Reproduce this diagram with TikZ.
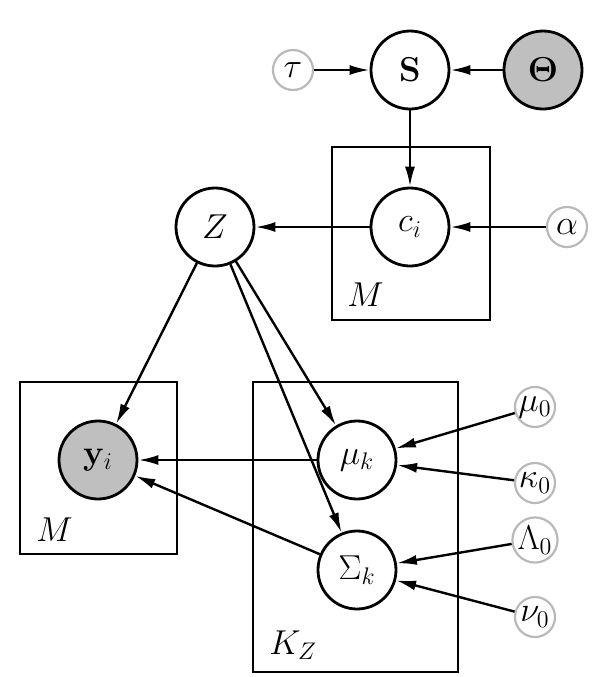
\documentclass[tikz,border=0pt]{standalone}
\usepackage{amsmath}
\usetikzlibrary{arrows.meta,positioning,shapes}
\tikzstyle{latent} = [circle, draw, line width=1.4pt, fill=white,
    minimum size=39pt, inner sep=0pt, font=\LARGE]
\tikzstyle{obs} = [latent, fill=gray!50]
\tikzstyle{hyper} = [circle, draw=gray!55, line width=1.1pt, fill=white,
    minimum size=20pt, inner sep=0pt, font=\LARGE]
\tikzstyle{plate} = [rectangle, draw, line width=1.1pt]
\tikzstyle{platelabel} = [anchor=base west, inner sep=0pt, font=\LARGE]
\tikzstyle{line} = [draw, line width=1.2pt, -{Latex[length=10pt,width=5pt]}]
\begin{document}
\begin{tikzpicture}[on grid, node distance=78.5pt, auto]
      \useasboundingbox (0,0) rectangle (299pt,-338.5pt);
      % Plates
      \node [plate, minimum width=79pt, minimum height=86.5pt] (platec) at (205.5pt,-116.75pt) {};
      \node [plate, minimum width=78.5pt, minimum height=86pt] (platey) at (49.25pt,-234pt) {};
      \node [plate, minimum width=102.5pt, minimum height=145pt] (platek) at (177.75pt,-263.5pt) {};
      \node [platelabel] (labc) at ([shift={(8pt,7.5pt)}]platec.south west) {$M$};
      \node [platelabel] (laby) at ([shift={(8.5pt,7pt)}]platey.south west) {$M$};
      \node [platelabel] (labk) at ([shift={(8.5pt,9.5pt)}]platek.south west) {$K_Z$};
      % Nodes
      \node [latent] (S) at (205pt,-35pt) {$\mathbf{S}$};
      \node [obs, right=66.5pt of S] (theta) {$\boldsymbol{\Theta}$};
      \node [hyper, left=58.5pt of S] (tau) {$\tau$};
      \node [latent, below=of S] (ci) {$c_i$};
      \node [latent, left=97.5pt of ci] (Z) {$Z$};
      \node [hyper, right=of ci] (alpha) {$\alpha$};
      \node [obs, below left=116.5pt and 58.5pt of Z] (yi) {$\mathbf{y}_i$};
      \node [latent, right=129.5pt of yi] (muk) {$\mu_k$};
      \node [latent, below=55pt of muk] (sigk) {$\Sigma_k$};
      \node [hyper, above right=26.5pt and 89pt of muk] (mu0) {$\mu_0$};
      \node [hyper, below=38pt of mu0] (kappa0) {$\kappa_0$};
      \node [hyper, below=28.5pt of kappa0] (lambda0) {$\Lambda_0$};
      \node [hyper, below=38.5pt of lambda0] (nu0) {$\nu_0$};
      % Draw edges
      \path [line] (tau) -- (S);
      \path [line] (theta) -- (S);
      \path [line] (S) -- (ci);
      \path [line] (alpha) -- (ci);
      \path [line] (ci) -- (Z);
      \path [line] (Z) -- (yi);
      \path [line] (Z) -- (muk);
      \path [line] (Z) -- (sigk);
      \path [line] (muk) -- (yi);
      \path [line] (sigk) -- (yi);
      \path [line] (mu0) -- (muk);
      \path [line] (kappa0) -- (muk);
      \path [line] (lambda0) -- (sigk);
      \path [line] (nu0) -- (sigk);
  \end{tikzpicture}
\end{document}
